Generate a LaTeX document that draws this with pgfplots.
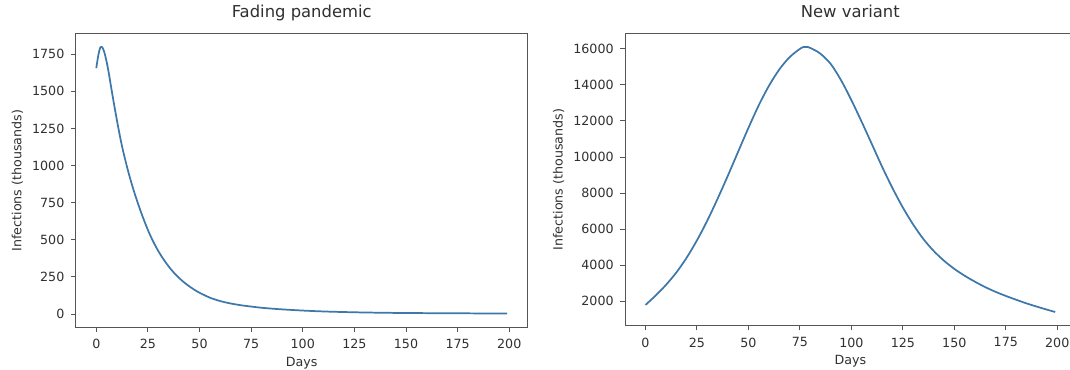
\documentclass[border=0pt]{standalone}
\usepackage{fontspec}
\setmainfont{DejaVu Sans}
\usepackage{pgfplots}
\pgfplotsset{compat=1.18}
\definecolor{mplblue}{HTML}{3E78AA}
\definecolor{frame}{HTML}{555555}
\definecolor{txt}{HTML}{303030}

\pgfplotsset{mpl/.style={
  scale only axis,
  width=339pt, height=220pt,
  xmin=-9.95, xmax=208.95,
  xtick={0,25,...,200},
  axis line style={frame, line width=0.7pt},
  tick style={frame, line width=0.7pt},
  tick align=outside,
  major tick length=3.5pt,
  tick pos=left,
  ticklabel style={font=\fontsize{9.5}{11}\selectfont, text=txt},
  xticklabel style={yshift=-2pt},
  yticklabel style={xshift=-1.5pt},
  /pgf/number format/assume math mode=true,
  /pgf/number format/1000 sep={},
  scaled ticks=false,
  title style={font=\fontsize{12.3}{14}\selectfont, text=txt, at={(0.5,1)}, anchor=base, yshift=6.3pt},
  label style={font=\fontsize{9.5}{11}\selectfont, text=txt},
  xlabel style={yshift=0.8pt},
  xlabel=Days, ylabel=Infections (thousands),
}}

\pgfplotstableread{
d v
0 1656
1 1745
2 1797
3 1795
4 1758
5 1700
6 1628
7 1545
8 1462
9 1382
10 1305
11 1231
12 1161
13 1098
14 1040
15 985
16 933
17 884
18 838
19 794
20 752
21 712
22 673
23 636
24 600
25 566
26 534
27 504
28 476
29 450
30 425
32 380
34 340
36 304
38 272
40 244
42 219
44 197
46 177
48 159
50 143
55 110
60 87
65 71
70 59
75 50
80 42
85 36
90 31
100 23
110 17
120 13
130 10
140 8
150 6.5
175 4.5
199 3
}\fading

\pgfplotstableread{
d v
0 1800
5 2330
10 2920
15 3600
20 4420
25 5380
30 6470
35 7680
40 8960
45 10290
50 11610
55 12860
60 13950
65 14850
70 15530
75 15990
77 16100
79 16090
82 15930
85 15720
90 15150
95 14250
100 13150
105 11950
110 10700
115 9440
120 8270
125 7200
130 6260
135 5450
140 4790
145 4250
150 3800
155 3420
160 3090
165 2790
170 2530
175 2300
180 2090
185 1890
190 1710
195 1540
199 1410
}\variant

\begin{document}
\begin{tikzpicture}[x=1pt,y=1pt]
\begin{axis}[mpl, at={(56.8pt,31.3pt)}, anchor=south west,
  ymin=-89.6, ymax=1887, ytick={0,250,...,1750},
  title=Fading pandemic]
\addplot[mplblue, line width=1.3pt, smooth, line join=round, no markers] table[x=d,y=v] {\fading};
\end{axis}
\begin{axis}[mpl, at={(468.75pt,32.5pt)}, anchor=south west,
  width=338pt, height=219pt,
  ymin=652, ymax=16832, ytick={2000,4000,...,16000},
  title=New variant]
\addplot[mplblue, line width=1.3pt, smooth, line join=round, no markers] table[x=d,y=v] {\variant};
\end{axis}
\pgfresetboundingbox
\useasboundingbox (0,0) rectangle (802.5,276.75);
\end{tikzpicture}
\end{document}
